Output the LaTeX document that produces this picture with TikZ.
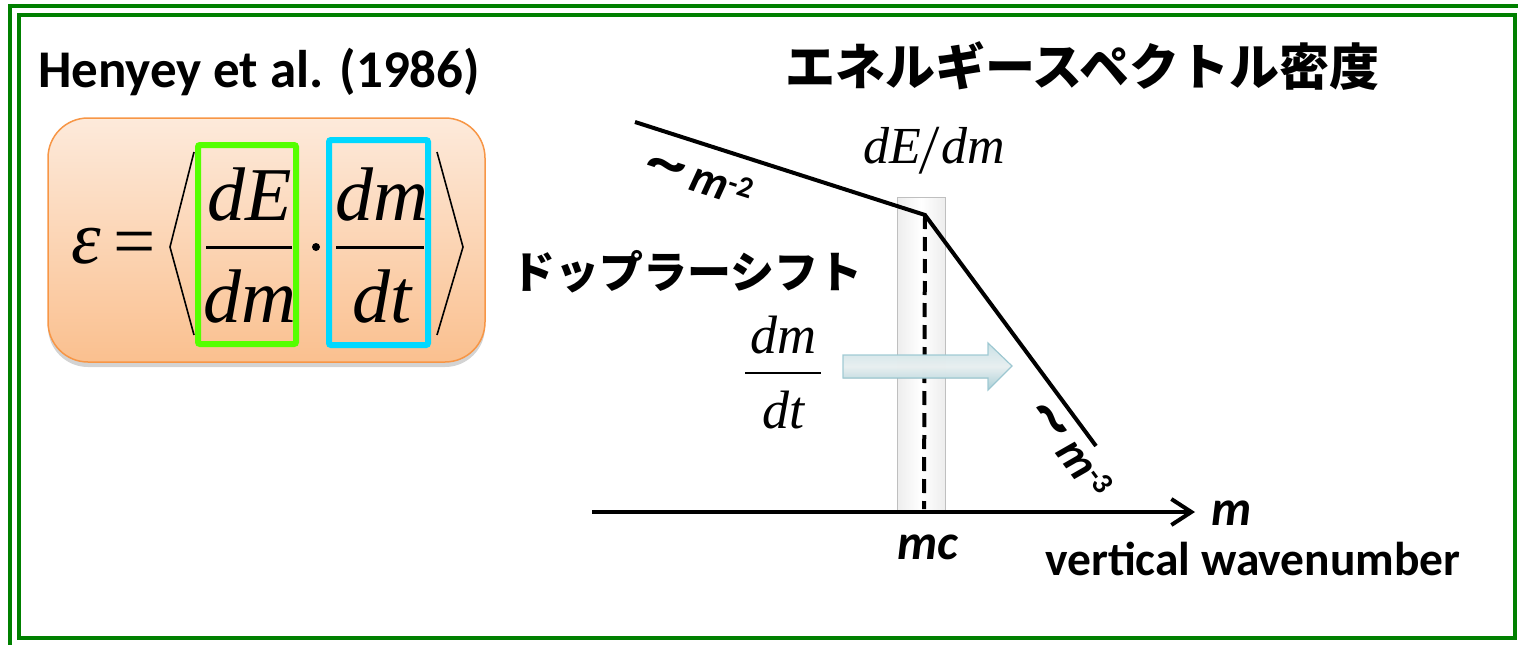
\documentclass[tikz,border=0pt]{standalone}
\usepackage{fontspec}
\usepackage{graphicx}
\setmainfont{Carlito}
\newfontfamily\jp{Noto Sans CJK JP}
\newfontfamily\tms{Liberation Serif}
\usetikzlibrary{arrows.meta,shadows}
\definecolor{frame}{HTML}{008000}
\definecolor{peachtop}{HTML}{FDEADB}
\definecolor{peachbot}{HTML}{FAC08F}
\definecolor{orangeedge}{HTML}{F79646}
\definecolor{limebox}{HTML}{55FF00}
\definecolor{cyanbox}{HTML}{00D8FF}
\definecolor{arrtop}{HTML}{D4EDF2}
\definecolor{arrmid}{HTML}{F4FBFC}
\definecolor{arrbot}{HTML}{B3DAE2}
\definecolor{arredge}{HTML}{9CC8D2}
\tikzset{
  frameline/.style={draw=frame, line width=4},
  mathit/.style={font=\tms\itshape\fontsize{#1}{#1}\selectfont, inner sep=0, anchor=base},
  fracbar/.style={line width=3},
  hlbox/.style={line width=6, rounded corners=2, inner sep=0},
  spec/.style={line width=4, line join=miter},
  bigbold/.style={font=\bfseries\fontsize{#1}{#1}\selectfont, inner sep=0},
  jptext/.style={font=\jp\bfseries\fontsize{#1}{#1}\selectfont, inner sep=0, anchor=west},
}
\begin{document}
\begin{tikzpicture}[x=1pt,y=-1pt]
\useasboundingbox (0,0) rectangle (1518,645);
% frames
\draw[frameline] (10,6) rectangle (1535,660);
\draw[frameline] (19,15) rectangle (1515,638);
% title
\node[bigbold=53, anchor=base west] (title) at (38,87) {Henyey et al. (1986)};
% orange box
\node[draw=orangeedge, line width=1.5, rounded corners=40, minimum width=437, minimum height=244,
      top color=peachtop, bottom color=peachbot,
      drop shadow={shadow xshift=0pt, shadow yshift=-5pt, opacity=0.35}] (ebox) at (266.5,240) {};
% formula
\node[mathit=75] (eps) at (86,263) {ε};
\node[font=\tms\fontsize{75}{75}\selectfont, inner sep=0, anchor=base] (eq) at (135,266) {=};
\draw[line width=1.6] (194,152) -- (170,247) -- (194,335);
\draw[line width=1.6] (437,152) -- (463,247) -- (437,335);
\node[mathit=76] (n1) at (250,220) {dE};
\node[mathit=76] (d1) at (250,322) {dm};
\draw[fracbar] (206,247) -- (292,247);
\fill (316,247) circle (4);
\node[mathit=76] (n2) at (382,220) {dm};
\node[mathit=76] (d2) at (382,322) {dt};
\draw[fracbar] (336,247) -- (424,247);
\node[hlbox, draw=limebox, minimum width=98, minimum height=199] (gbox) at (247,244.5) {};
\node[hlbox, draw=cyanbox, minimum width=99, minimum height=205] (cbox) at (378.5,242.5) {};
% right: titles
\node[jptext=50] (jtitle) at (785,66) {エネルギースペクトル密度};
\node[jptext=44] (doppler) at (511,272) {ドップラーシフト};
% bar
\node[draw=gray!50, line width=1, left color=gray!14, right color=gray!14, middle color=white,
      minimum width=48, minimum height=314, inner sep=0] (bar) at (921,354) {};
% spectrum
\coordinate (s0) at (635,122);
\coordinate (knee) at (925,215);
\coordinate (s1) at (1096,446);
\coordinate (kneefoot) at (924,509);
\draw[line width=4, dash pattern=on 14 off 8] (knee) -- (kneefoot);
\draw[spec] (s0) -- (knee) -- (s1);
% axis
\coordinate (ax0) at (592,512);
\coordinate (ax1) at (1195,512);
\draw[line width=4, -{Straight Barb[length=20,width=26]}] (ax0) -- (ax1);
\node[font=\bfseries\itshape\fontsize{50}{50}\selectfont, inner sep=0, anchor=base] (mlab) at (1232,525) {m};
\node[font=\bfseries\itshape\fontsize{50}{50}\selectfont, inner sep=0, anchor=base] (mc) at (928,559) {mc};
\node[bigbold=47.5, anchor=base] (vw) at (1253,575) {vertical wavenumber};
% dE/dm
\node[font=\tms\fontsize{52}{52}\selectfont, inner sep=0, anchor=base] (dedm) at (934,163)
  {\textit{dE}\kern1pt\raisebox{-10pt}{\scalebox{1}[1.35]{\textit{/}}}\kern1pt\textit{dm}};
% dm/dt
\node[mathit=54] (n3) at (783,353) {dm};
\node[mathit=54] (d3) at (783,428) {dt};
\draw[line width=2] (745,373) -- (821,373);
% blue arrow
\filldraw[draw=arredge, line width=1.2, top color=arrtop, bottom color=arrbot, middle color=arrmid, opacity=0.95]
  (843,355) -- (988,355) -- (988,343) -- (1012,366) -- (988,390) -- (988,378) -- (843,378) -- cycle;
% slope labels
\node[rotate=-17.8, inner sep=0, font=\bfseries\fontsize{47}{47}\selectfont] (lab2) at (699,178)
  {\scalebox{1.7}[1.3]{\textasciitilde}\,\textit{m}{\fontsize{30}{30}\selectfont\raisebox{10pt}{-2}}};
\node[rotate=-53.4, inner sep=0, font=\bfseries\fontsize{47}{47}\selectfont] (lab3) at (1071,449)
  {\scalebox{1.7}[1.3]{\textasciitilde}\,\textit{m}{\fontsize{30}{30}\selectfont\raisebox{10pt}{-3}}};
\end{tikzpicture}
\end{document}
